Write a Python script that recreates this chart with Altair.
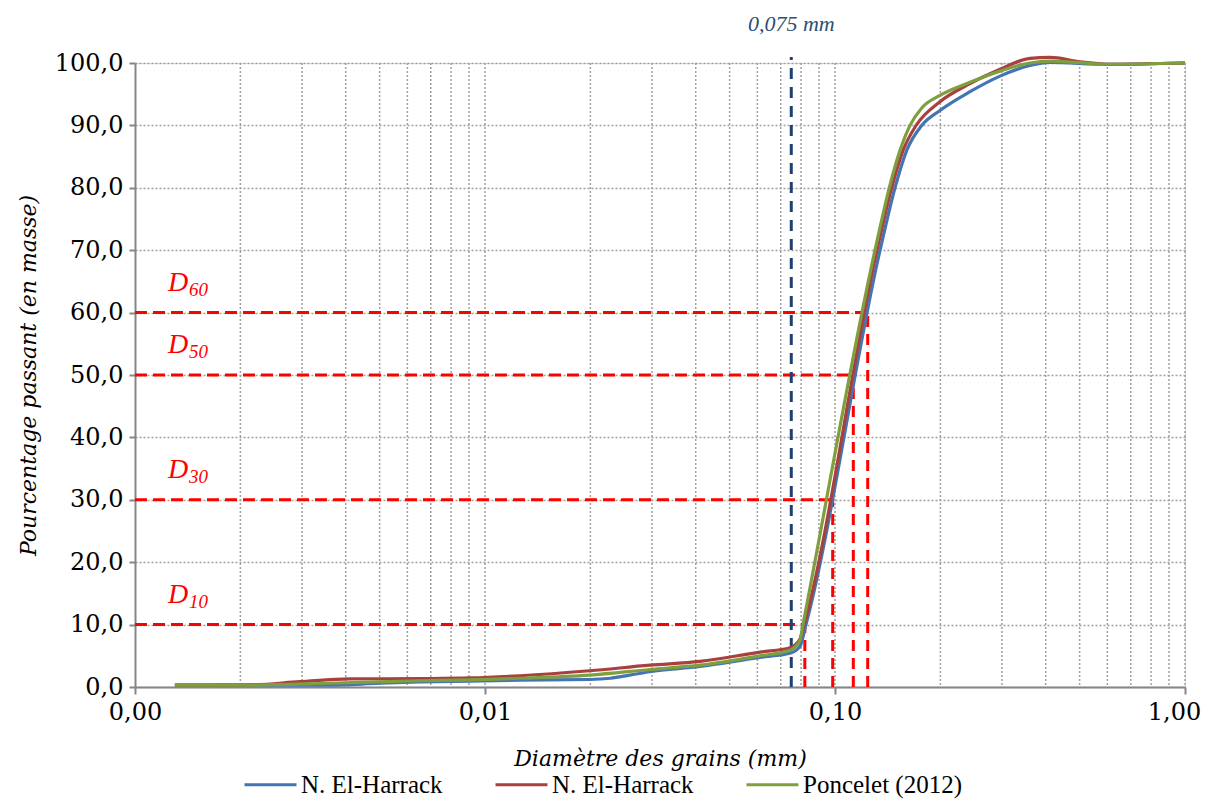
import altair as alt
import pandas as pd

# ---- data ----
d_blue = [0.0013, 0.00213, 0.0036, 0.005, 0.0065, 0.0091, 0.0126, 0.0199, 0.0228, 0.0259, 0.0296,
          0.0411, 0.0611, 0.0744, 0.0794, 0.0826, 0.1345, 0.1484, 0.1603, 0.1769, 0.1995, 0.243,
          0.2961, 0.3607, 0.4114, 0.5986, 1.0]
p_blue = [0.3, 0.3, 0.3, 0.6, 0.8, 0.95, 1.1, 1.2, 1.4, 1.9, 2.45,
          3.3, 4.75, 5.4, 6.5, 10, 70, 80, 86, 90, 92.4, 95.4,
          97.9, 99.6, 100.1, 99.8, 100]

d_red = [0.0013, 0.00213, 0.00296, 0.0041, 0.0065, 0.0091, 0.0126, 0.0199, 0.0296, 0.0411,
         0.0611, 0.0744, 0.0794, 0.0816, 0.1318, 0.1452, 0.1565, 0.1705, 0.1995, 0.243,
         0.2961, 0.3607, 0.4114, 0.5012, 0.5986, 1.0]
p_red = [0.3, 0.35, 0.85, 1.3, 1.35, 1.45, 1.8, 2.6, 3.5, 4.1,
         5.6, 6.3, 7.7, 10, 70, 80, 86, 90, 93.8, 96.7,
         99.0, 100.75, 100.9, 100.2, 99.8, 100]

d_green = [0.0013, 0.00213, 0.0036, 0.0065, 0.0091, 0.0126, 0.0199, 0.0296, 0.0411, 0.0611,
           0.0744, 0.0794, 0.081, 0.1301, 0.1429, 0.1534, 0.1638, 0.177, 0.1995, 0.243,
           0.2961, 0.3607, 0.4114, 0.5012, 0.5986, 1.0]
p_green = [0.3, 0.3, 0.6, 1.0, 1.15, 1.4, 1.9, 2.8, 3.5, 5.0,
           5.9, 7.5, 10, 70, 80, 86, 90, 92.8, 94.8, 96.9,
           98.7, 100.0, 100.3, 100.05, 99.8, 100]

series_names = ["N. El-Harrack#1", "N. El-Harrack#2", "Poncelet (2012)"]
series_colors = ["#4374B3", "#A8403D", "#7F9F3F"]

# characteristic diameters
D_levels = [10, 30, 50, 60]
D_sizes = [0.082, 0.0985, 0.1128, 0.124]
D_labels = ["10", "30", "50", "60"]

ref_d = [0.075]
ref_label = ["0,075 mm"]

x_ticks = [0.001, 0.01, 0.1, 1.0]
y_ticks = [0, 10, 20, 30, 40, 50, 60, 70, 80, 90, 100]
grid_x = [0.002, 0.003, 0.004, 0.005, 0.006, 0.007, 0.008, 0.009, 0.01,
          0.02, 0.03, 0.04, 0.05, 0.06, 0.07, 0.08, 0.09, 0.1,
          0.2, 0.3, 0.4, 0.5, 0.6, 0.7, 0.8, 0.9, 1.0]

# ---- tables ----
rows = []
for name, ds, ps in zip(series_names, [d_blue, d_red, d_green], [p_blue, p_red, p_green]):
    for d, p in zip(ds, ps):
        rows.append({"serie": name, "d": d, "p": p})
curves_df = pd.DataFrame(rows)

D_df = pd.DataFrame({"lvl": D_levels, "D": D_sizes, "lab": D_labels,
                     "x0": [x_ticks[0]] * len(D_levels), "y0": [0] * len(D_levels)})
ref_df = pd.DataFrame({"d": ref_d, "lab": ref_label})
grid_df = pd.DataFrame({"g": grid_x})

W, H = 1050, 624
AX = "#868686"
GRID = "#A0A0A0"

xscale = alt.Scale(type="log", domain=[0.001, 1.0])
yscale = alt.Scale(domain=[0, 100])

xaxis = alt.Axis(values=x_ticks, labelExpr="replace(format(datum.value,'.2f'),'.',',')",
                 grid=False, tickSize=7, tickColor=AX, tickWidth=2, domainColor=AX, domainWidth=2,
                 labelFont="DejaVu Serif", labelFontSize=24, labelColor="black", labelPadding=6,
                 labelFlush=False,
                 labelOffset={"condition": {"test": "datum.value >= 1", "value": -11}, "value": 0},
                 title="Diamètre des grains (mm)", titleFont="DejaVu Serif", titleFontStyle="italic",
                 titleFontWeight="normal", titleFontSize=22, titleColor="black", titlePadding=24)
yaxis = alt.Axis(values=y_ticks, labelExpr="replace(format(datum.value,'.1f'),'.',',')",
                 grid=True, gridColor=GRID, gridDash=[2, 2], gridWidth=1.5,
                 tickSize=6, tickColor=AX, tickWidth=2, domainColor=AX, domainWidth=2,
                 labelFont="DejaVu Serif", labelFontSize=24, labelColor="black", labelPadding=6,
                 title="Pourcentage passant (en masse)", titleFont="DejaVu Serif",
                 titleFontStyle="italic", titleFontWeight="normal", titleFontSize=22,
                 titleColor="black", titlePadding=14)

grid = alt.Chart(grid_df).mark_rule(color=GRID, strokeDash=[2, 2], strokeWidth=1.5).encode(
    x=alt.X("g:Q", scale=xscale, axis=xaxis),
    y=alt.value(0), y2=alt.value(H))

red_h = alt.Chart(D_df).mark_rule(color="#FF0000", strokeWidth=3, strokeDash=[12, 6]).encode(
    x=alt.X("x0:Q", scale=xscale, axis=xaxis), x2="D:Q",
    y=alt.Y("lvl:Q", scale=yscale, axis=yaxis))

red_v = alt.Chart(D_df).mark_rule(color="#FF0000", strokeWidth=3, strokeDash=[11, 7]).encode(
    x=alt.X("D:Q", scale=xscale, axis=xaxis),
    y=alt.Y("y0:Q", scale=yscale, axis=yaxis), y2="lvl:Q")

navy = alt.Chart(ref_df).mark_rule(color="#1F3F6E", strokeWidth=3, strokeDash=[11, 8]).encode(
    x=alt.X("d:Q", scale=xscale, axis=xaxis),
    y=alt.value(H), y2=alt.value(-6))

curves = alt.Chart(curves_df).mark_line(strokeWidth=3.2, interpolate="monotone").encode(
    x=alt.X("d:Q", scale=xscale, axis=xaxis),
    y=alt.Y("p:Q", scale=yscale, axis=yaxis),
    color=alt.Color("serie:N", scale=alt.Scale(domain=series_names, range=series_colors),
                    legend=alt.Legend(orient="none", legendX=108, legendY=694,
                                      direction="horizontal", columns=3, title=None,
                                      symbolType="stroke", symbolSize=2700, symbolStrokeWidth=3,
                                      labelFont="Liberation Serif", labelFontSize=25,
                                      labelColor="black", labelLimit=400,
                                      labelExpr="split(datum.label,'#')[0]",
                                      columnPadding=46, labelOffset=3)))

text_D = alt.Chart(D_df).mark_text(text="D", font="Liberation Serif", fontStyle="italic",
                                   fontSize=28, color="#FF0000", align="left",
                                   baseline="alphabetic", dy=-22).encode(
    x=alt.value(33), y=alt.Y("lvl:Q", scale=yscale, axis=yaxis))

text_sub = alt.Chart(D_df).mark_text(font="Liberation Serif", fontStyle="italic",
                                     fontSize=19, color="#FF0000", align="left",
                                     baseline="alphabetic", dy=-17).encode(
    x=alt.value(54), y=alt.Y("lvl:Q", scale=yscale, axis=yaxis), text="lab:N")

ref_text = alt.Chart(ref_df).mark_text(font="Liberation Serif", fontStyle="italic", fontSize=22,
                                       color="#2C4D75", align="center", baseline="alphabetic").encode(
    x=alt.X("d:Q", scale=xscale, axis=xaxis), y=alt.value(-32), text="lab:N")

chart = alt.layer(grid, red_h, red_v, navy, curves, text_D, text_sub, ref_text).properties(
    width=W, height=H,
    padding={"left": 127, "top": 55, "right": 17, "bottom": 113},
    autosize=alt.AutoSizeParams(type="none"),
).configure_view(stroke=None).configure(background="white")

chart.save("out.html", embed_options={"renderer": "svg", "actions": False})
